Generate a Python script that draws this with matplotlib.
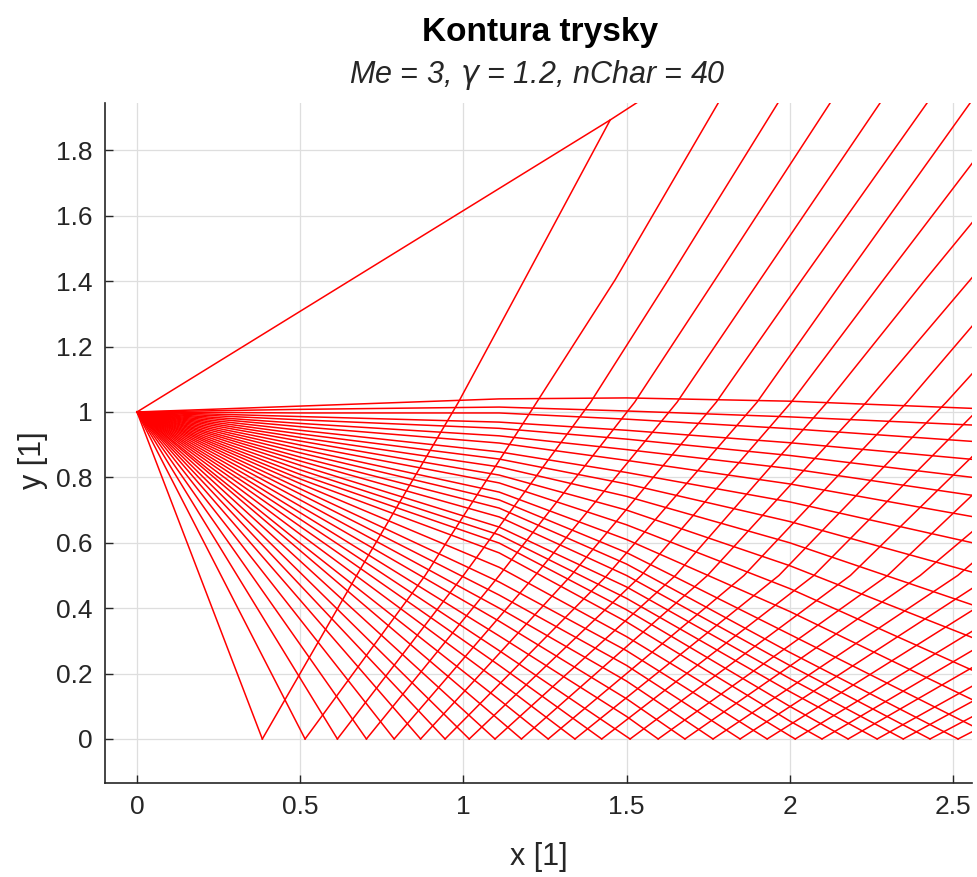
import matplotlib.pyplot as plt
import numpy as np

nan = np.nan

# C- characteristics from the corner (0,1): y read at the x stations,
# nan where the line has already reached the axis
xs = [0.0, 0.5, 1.11, 1.5, 2.0, 2.56]
axis_hit = [0.384, 0.515, 0.614, 0.703, 0.788, 0.869, 0.944, 1.018, 1.097, 1.178,
            1.260, 1.342, 1.424, 1.511, 1.597, 1.679, 1.765, 1.848, 1.931, 2.017,
            2.099, 2.179, 2.268, 2.348, 2.430, 2.516]
cminus = [
    [1, nan, nan, nan, nan, nan],
    [1, nan, nan, nan, nan, nan],
    [1, nan, nan, nan, nan, nan],
    [1, nan, nan, nan, nan, nan],
    [1, nan, nan, nan, nan, nan],
    [1, nan, nan, nan, nan, nan],
    [1, nan, nan, nan, nan, nan],
    [1, nan, nan, nan, nan, nan],
    [1, nan, nan, nan, nan, nan],
    [1, 0.576, 0.058, nan, nan, nan],
    [1, 0.599, 0.120, nan, nan, nan],
    [1, 0.626, 0.175, nan, nan, nan],
    [1, 0.650, 0.225, nan, nan, nan],
    [1, 0.672, 0.270, nan, nan, nan],
    [1, 0.692, 0.315, 0.069, nan, nan],
    [1, 0.712, 0.360, 0.123, nan, nan],
    [1, 0.731, 0.400, 0.177, nan, nan],
    [1, 0.749, 0.440, 0.225, nan, nan],
    [1, 0.765, 0.480, 0.270, nan, nan],
    [1, 0.781, 0.525, 0.313, 0.010, nan],
    [1, 0.795, 0.569, 0.358, 0.055, nan],
    [1, 0.809, 0.599, 0.395, 0.100, nan],
    [1, 0.823, 0.624, 0.430, 0.145, nan],
    [1, 0.837, 0.648, 0.465, 0.185, nan],
    [1, 0.850, 0.679, 0.500, 0.225, nan],
    [1, 0.862, 0.706, 0.535, 0.265, nan],
    [1, 0.875, 0.731, 0.570, 0.320, 0.040],
    [1, 0.887, 0.755, 0.610, 0.390, 0.120],
    [1, 0.899, 0.783, 0.655, 0.460, 0.210],
    [1, 0.911, 0.807, 0.700, 0.530, 0.310],
    [1, 0.922, 0.832, 0.742, 0.600, 0.410],
    [1, 0.933, 0.856, 0.780, 0.665, 0.510],
    [1, 0.944, 0.878, 0.815, 0.725, 0.600],
    [1, 0.955, 0.905, 0.852, 0.780, 0.680],
    [1, 0.965, 0.927, 0.885, 0.827, 0.745],
    [1, 0.976, 0.950, 0.917, 0.867, 0.800],
    [1, 0.986, 0.969, 0.944, 0.906, 0.855],
    [1, 0.997, 0.997, 0.978, 0.949, 0.910],
    [1, 1.008, 1.015, 1.003, 0.985, 0.960],
    [1, 1.018, 1.040, 1.043, 1.033, 1.011],
]

# C+ characteristics reflected from the axis: x read at the y stations
ys = [0.0, 0.5, 1.03, 1.404, 1.945]
cplus = [
    [0.384, 0.673, 0.985, 1.187, nan],
    [0.515, 0.883, 1.225, 1.465, 1.781],
    [0.614, 1.000, 1.390, 1.628, 1.964],
    [0.703, 1.110, 1.525, 1.771, 2.124],
    [0.788, 1.220, 1.655, 1.909, 2.277],
    [0.869, 1.330, 1.775, 2.037, 2.421],
    [0.944, 1.440, 1.900, 2.165, 2.553],
    [1.018, 1.545, 2.005, 2.287, 2.700],
    [1.097, 1.650, 2.115, 2.415, 2.860],
    [1.178, 1.748, 2.235, 2.553, 3.020],
    [1.260, 1.860, 2.360, 2.680, 3.160],
    [1.342, 1.967, 2.480, 2.820, 3.300],
    [1.424, 2.074, 2.600, nan, nan],
    [1.511, 2.186, 2.730, nan, nan],
    [1.597, 2.300, 2.860, nan, nan],
    [1.679, 2.400, 3.030, nan, nan],
    [1.765, 2.515, 3.140, nan, nan],
    [1.848, 2.620, nan, nan, nan],
    [1.931, 2.730, nan, nan, nan],
    [2.017, 2.840, nan, nan, nan],
    [2.099, 2.950, nan, nan, nan],
    [2.179, 3.050, nan, nan, nan],
    [2.268, 3.170, nan, nan, nan],
    [2.348, 3.270, nan, nan, nan],
    [2.430, 3.380, nan, nan, nan],
    [2.516, 3.490, nan, nan, nan],
]

# nozzle wall
wall_x = [0.0, 1.45, 1.60]
wall_y = [1.0, 1.893, 1.99]

plt.rcParams['font.family'] = ['Liberation Sans', 'DejaVu Sans']

fig = plt.figure(figsize=(9.77, 8.77), dpi=100)
ax = fig.add_axes([0.1075, 0.1072, 0.8875, 0.7754])

red = '#ff0000'
lw = 1.1
dark = '#262626'

for k, row in enumerate(cminus):
    px = [x for x, y in zip(xs, row) if not np.isnan(y)]
    py = [y for y in row if not np.isnan(y)]
    if k < len(axis_hit):
        px.append(axis_hit[k])
        py.append(0.0)
    ax.plot(px, py, color=red, lw=lw)

for j, row in enumerate(cplus):
    px = [x for x in row if not np.isnan(x)]
    py = [y for x, y in zip(row, ys) if not np.isnan(x)]
    if j == 0:
        px.append(wall_x[1])
        py.append(wall_y[1])
    ax.plot(px, py, color=red, lw=lw)

ax.plot(wall_x, wall_y, color=red, lw=lw)

ax.set_xlim(-0.098, 2.559)
ax.set_ylim(-0.1346, 1.945)
ax.set_xticks([0, 0.5, 1, 1.5, 2, 2.5])
ax.set_xticklabels(['0', '0.5', '1', '1.5', '2', '2.5'])
ax.set_yticks(np.arange(0, 1.81, 0.2))
ax.set_yticklabels(['0', '0.2', '0.4', '0.6', '0.8', '1', '1.2', '1.4', '1.6', '1.8'])

ax.grid(True, color='#dedede', lw=0.9)
ax.set_axisbelow(True)
for s in ['top', 'right']:
    ax.spines[s].set_visible(False)
for s in ['left', 'bottom']:
    ax.spines[s].set_color(dark)
    ax.spines[s].set_linewidth(1.2)
ax.tick_params(direction='in', length=6, width=1.0, colors=dark,
               labelsize=19, pad=9)

fig.text(539 / 977, 1 - 857 / 877, 'x [1]', ha='center', va='center',
         fontsize=22, color=dark)
fig.text(33 / 977, 1 - 460 / 877, 'y [1]', ha='center', va='center',
         fontsize=22, color=dark, rotation=90)

fig.text(540 / 977, 1 - 32 / 877, 'Kontura trysky', ha='center', va='center',
         fontsize=24, fontweight='bold', color='black')
fig.text(537 / 977, 1 - 75 / 877, r'Me = 3, $\gamma$ = 1.2, nChar = 40',
         ha='center', va='center', fontsize=22, style='italic', color=dark)

fig.savefig('out.png', dpi=100)
